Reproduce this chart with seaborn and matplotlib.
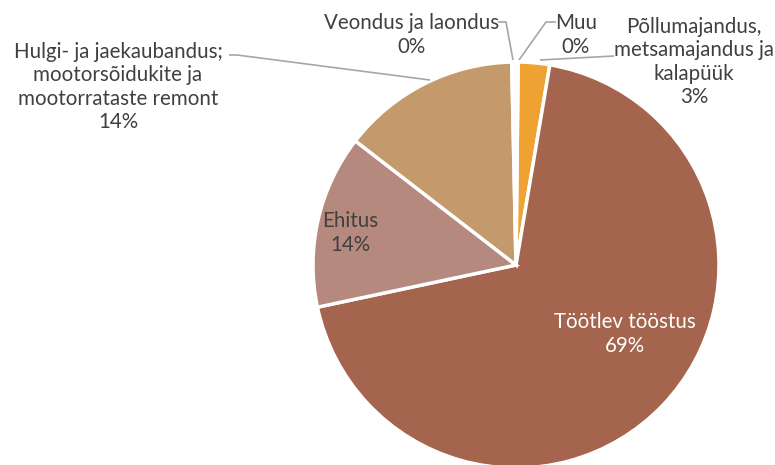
import matplotlib
matplotlib.use('Agg')
import matplotlib.pyplot as plt
import seaborn as sns

# data (clockwise from top)
sectors = ['Põllumajandus,\nmetsamajandus ja\nkalapüük', 'Töötlev tööstus', 'Ehitus',
           'Hulgi- ja jaekaubandus;\nmootorsõidukite ja\nmootorrataste remont',
           'Veondus ja laondus', 'Muu']
shares = [2.5, 69.0, 13.8, 14.2, 0.25, 0.25]
pct_labels = ['3%', '69%', '14%', '14%', '0%', '0%']
colors = ['#EFA232', '#A5644D', '#B5897E', '#C4996B', '#A5A5A5', '#E0C080']

sns.set_theme(style='white')
plt.rcParams['font.family'] = ['Lato', 'DejaVu Sans']

fig = plt.figure(figsize=(7.75, 4.65), dpi=100)
ax = fig.add_axes([0, 0, 1, 1])
ax.set_axis_off()

palette = sns.color_palette(colors)
wedges, _ = ax.pie(shares, colors=palette, startangle=89.4, counterclock=False,
                   radius=1, center=(0, 0),
                   wedgeprops=dict(edgecolor='white', linewidth=2.5))

# pixel -> data mapping (203 px per unit, centre at 516,265)
cx, cy, s = 516, 265, 203
def px(x, y):
    return ((x - cx) / s, (cy - y) / s)

ax.set_xlim(px(0, 0)[0], px(775, 0)[0])
ax.set_ylim(px(0, 465)[1], px(0, 0)[1])
ax.set_aspect('equal')

txt = '#404040'
fs = 14.8
ls = 1.22

# inside labels
ax.text(*px(350, 233), 'Ehitus\n' + pct_labels[2], ha='center', va='center',
        fontsize=fs, color=txt, linespacing=ls)
ax.text(*px(625, 334), 'Töötlev tööstus\n' + pct_labels[1], ha='center', va='center',
        fontsize=fs, color='white', linespacing=ls)

# outside labels
ax.text(*px(412, 35), sectors[4] + '\n' + pct_labels[4], ha='center', va='center',
        fontsize=fs, color=txt, linespacing=ls)
ax.text(*px(576, 35), sectors[5] + '\n' + pct_labels[5], ha='center', va='center',
        fontsize=fs, color=txt, linespacing=ls)
ax.text(*px(694, 62), sectors[0] + '\n' + pct_labels[0], ha='center', va='center',
        fontsize=fs, color=txt, linespacing=ls)
ax.text(*px(118, 87), sectors[3] + '\n' + pct_labels[3], ha='center', va='center',
        fontsize=fs, color=txt, linespacing=ls)

# leader lines
lc = '#A6A6A6'
def leader(points):
    xs, ys = zip(*[px(x, y) for x, y in points])
    ax.plot(xs, ys, color=lc, linewidth=1.2, solid_capstyle='butt')

leader([(498, 22), (506, 22), (513, 60)])
leader([(556, 22), (546, 22), (519, 60)])
leader([(614, 56), (540, 60)])
leader([(229, 55), (237, 55), (430, 80)])

fig.savefig('out.png', dpi=100)
